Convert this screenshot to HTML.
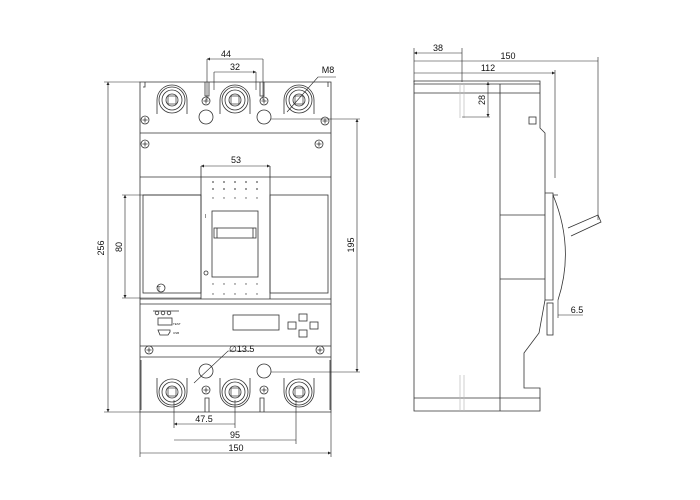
<!DOCTYPE html>
<html><head><meta charset="utf-8"><style>
html,body{margin:0;padding:0;background:#fff}
svg{display:block}
text{font-family:"Liberation Sans",sans-serif;font-size:9px;fill:#111}
</style></head><body>
<svg width="700" height="500" viewBox="0 0 700 500" xmlns="http://www.w3.org/2000/svg">
<defs>
<marker id="a" viewBox="0 0 6 6" refX="6" refY="3" markerWidth="5" markerHeight="5" orient="auto-start-reverse"><path d="M0,0L6,3L0,6z" fill="#222"/></marker>
<g id="scr"><circle r="4" fill="#fff" stroke="#333" stroke-width="0.8"/><path d="M-2.5,0H2.5M0,-2.5V2.5" stroke="#333" stroke-width="0.8"/></g>
<g id="term"><path d="M-15,14V0A15,15 0 0 1 15,0V14" fill="#fff" stroke="#333" stroke-width="0.8"/><circle r="13" fill="none" stroke="#333" stroke-width="0.8"/><circle r="10" fill="none" stroke="#333" stroke-width="0.8"/><circle r="6" fill="none" stroke="#333" stroke-width="0.8"/><rect x="-4" y="-4" width="8" height="8" fill="none" stroke="#333" stroke-width="0.7"/></g>
</defs>
<g fill="none" stroke="#333" stroke-width="0.8">
<path d="M140,82H331V412H140Z"/>
<path d="M140,133H331M140,177H331M140,299H331M140,304H331M140,346H331M140,357H331"/>
<path d="M145,82v5h-2M205,82v14h4V82M260,82v14h4V82M328,82v5"/>
<path d="M201,166V299M270,166V299"/>
<rect x="212" y="211" width="46" height="66"/>
<rect x="214" y="228" width="42" height="10"/>
<path d="M217,228v10M253,228v10"/>
<rect x="143" y="195" width="58" height="98"/>
<rect x="270" y="195" width="58" height="98"/>
<circle cx="161" cy="288" r="4"/>
<circle cx="206" cy="273" r="2"/>
<rect x="233" y="315" width="46" height="15"/>
<rect x="158" y="318" width="14" height="7"/>
<path d="M158,330h12v2l-2,3h-8z"/>
<circle cx="157" cy="313" r="1.8"/><circle cx="163" cy="313" r="1.8"/><circle cx="169" cy="313" r="1.8"/>
<path d="M153,311h26"/>
<rect x="288" y="322" width="8" height="7"/><rect x="299" y="314" width="8" height="7"/><rect x="299" y="330" width="8" height="7"/><rect x="310" y="322" width="8" height="7"/>
<path d="M205,412v-14h4v14M260,412v-14h4v14M141,360v50M330,360v50"/>
<circle cx="206" cy="117" r="7"/><circle cx="264" cy="117" r="7"/>
<circle cx="206" cy="371" r="7"/><circle cx="264" cy="371" r="7"/>
</g>
<g fill="#555"><circle cx="213" cy="182" r=".9"/><circle cx="224" cy="182" r=".9"/><circle cx="235" cy="182" r=".9"/><circle cx="246" cy="182" r=".9"/><circle cx="257" cy="182" r=".9"/><circle cx="213" cy="189" r=".9"/><circle cx="224" cy="189" r=".9"/><circle cx="235" cy="189" r=".9"/><circle cx="246" cy="189" r=".9"/><circle cx="257" cy="189" r=".9"/><circle cx="213" cy="198" r=".7"/><circle cx="224" cy="198" r=".7"/><circle cx="235" cy="198" r=".7"/><circle cx="246" cy="198" r=".7"/><circle cx="257" cy="198" r=".7"/><circle cx="213" cy="284" r=".7"/><circle cx="224" cy="284" r=".7"/><circle cx="235" cy="284" r=".7"/><circle cx="246" cy="284" r=".7"/><circle cx="257" cy="284" r=".7"/><circle cx="213" cy="294" r=".7"/><circle cx="224" cy="294" r=".7"/><circle cx="235" cy="294" r=".7"/><circle cx="246" cy="294" r=".7"/><circle cx="257" cy="294" r=".7"/></g>
<use href="#term" x="172" y="100"/><use href="#term" x="235" y="100"/><use href="#term" x="299" y="100"/>
<g transform="translate(0,492) scale(1,-1)"><use href="#term" x="172" y="100"/><use href="#term" x="235" y="100"/><use href="#term" x="299" y="100"/></g>
<use href="#scr" x="206" y="101"/><use href="#scr" x="264" y="101"/><use href="#scr" x="145" y="120"/><use href="#scr" x="325" y="121"/><use href="#scr" x="145" y="144"/><use href="#scr" x="319" y="144"/>
<use href="#scr" x="149" y="350"/><use href="#scr" x="320" y="350"/><use href="#scr" x="206" y="390"/><use href="#scr" x="264" y="390"/>
<g fill="none" stroke="#222" stroke-width="0.6">
<path d="M207,59V100M263,59V100M214,72V90M256,72V90"/>
<path d="M207,59H263M214,72H256" marker-start="url(#a)" marker-end="url(#a)"/>
<path d="M201,166H270" marker-start="url(#a)" marker-end="url(#a)"/>
<path d="M287,112L318,77H336"/>
<path d="M104,82H140M104,412H140"/>
<path d="M108,82V412" marker-start="url(#a)" marker-end="url(#a)"/>
<path d="M122,195H201M122,298H201"/>
<path d="M125,195V298" marker-start="url(#a)" marker-end="url(#a)"/>
<path d="M271,119H360M271,372H360"/>
<path d="M357,119V372" marker-start="url(#a)" marker-end="url(#a)"/>
<path d="M194,383L228,351H250"/>
<path d="M174,400V428M235,400V428M296,400V444M140,412V457M331,412V457"/>
<path d="M174,424H235M174,440H296M140,453H331" marker-start="url(#a)" marker-end="url(#a)"/>
</g>
<text x="226" y="57" text-anchor="middle">44</text>
<text x="235" y="70" text-anchor="middle">32</text>
<text x="328" y="73" text-anchor="middle">M8</text>
<text x="236" y="163" text-anchor="middle">53</text>
<text x="229" y="352">∅13.5</text>
<text x="204" y="422" text-anchor="middle">47.5</text>
<text x="235" y="438" text-anchor="middle">95</text>
<text x="236" y="451" text-anchor="middle">150</text>
<text transform="translate(104,248) rotate(-90)" text-anchor="middle">256</text>
<text transform="translate(122,247) rotate(-90)" text-anchor="middle">80</text>
<text transform="translate(354,245) rotate(-90)" text-anchor="middle">195</text>
<text x="159" y="291" style="font-size:6px" text-anchor="middle">T</text>
<text x="173" y="325" style="font-size:3px">TEST</text>
<text x="173" y="334" style="font-size:3px">USB</text>
<text x="205" y="218" style="font-size:5px">I</text>
<g fill="none" stroke="#333" stroke-width="0.8">
<path d="M414,81H540V128L545,133V300L539,333L524,353V388H540V411H414Z"/>
<path d="M414,84H540M414,93H540M414,398H540M500,84V411M500,215H545M500,279H545"/>
<path d="M545,193H553V300H545"/>
<path d="M553,195Q575,248 558,300M553,195L558,195"/>
<path d="M568,228L598,215L601,222L571,236"/>
<rect x="547" y="303" width="6" height="32"/>
<rect x="529" y="117" width="7" height="7"/>
</g>
<g fill="none" stroke="#bbb" stroke-width="0.7"><path d="M460,84V118M464,84V118M460,375V411M464,375V411"/></g>
<g fill="none" stroke="#222" stroke-width="0.6">
<path d="M414,48V82M462,48V82M598,57V220M555,70V178"/>
<path d="M414,53H462M414,61H598M414,73H555" marker-start="url(#a)" marker-end="url(#a)"/>
<path d="M462,117H490"/>
<path d="M488,82V117" marker-start="url(#a)" marker-end="url(#a)"/>
<path d="M558,300V318M558,315H583"/>
</g>
<text x="438" y="51" text-anchor="middle">38</text>
<text x="508" y="59" text-anchor="middle">150</text>
<text x="488" y="71" text-anchor="middle">112</text>
<text x="577" y="313" text-anchor="middle">6.5</text>
<text transform="translate(485,100) rotate(-90)" text-anchor="middle">28</text>
</svg>
</body></html>
